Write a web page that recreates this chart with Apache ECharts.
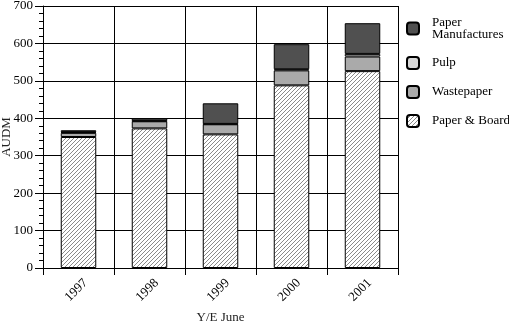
<!DOCTYPE html>
<html>
<head>
<meta charset="utf-8">
<script src="https://cdn.jsdelivr.net/npm/echarts@6/dist/echarts.min.js"></script>
<style>
  html, body { margin: 0; padding: 0; background: #fff; }
  #chart { width: 509px; height: 322px; }
</style>
</head>
<body>
<div id="chart"></div>
<script>
// Australian paper product imports by year ending June (AUD millions)
const years = ['1997', '1998', '1999', '2000', '2001'];
const paperBoard = [350, 373, 357, 488, 526];
const wastepaper = [11, 19, 27, 40, 39];
const pulp = [2, 1, 1, 3, 7];
const paperManufactures = [5, 7, 55, 67, 82];
const yTicks = [0, 100, 200, 300, 400, 500, 600, 700];

const FONT = '"Liberation Serif", "Times New Roman", serif';

// Diagonal hatch fill for Paper & Board
function makeHatch() {
  const c = document.createElement('canvas');
  c.width = 4; c.height = 4;
  const g = c.getContext('2d');
  g.fillStyle = '#ffffff';
  g.fillRect(0, 0, 4, 4);
  g.fillStyle = '#8a8a8a';
  for (let i = 0; i < 4; i++) g.fillRect(i, 3 - i, 1, 1);
  return c;
}
const hatch = { image: makeHatch(), repeat: 'repeat' };

const chart = echarts.init(document.getElementById('chart'), null, { renderer: 'canvas' });

function barSeries(name, data, color) {
  return {
    name: name,
    type: 'bar',
    stack: 'total',
    data: data,
    barWidth: '50%',
    itemStyle: { color: color, borderColor: '#000', borderWidth: 1 }
  };
}

chart.setOption({
  animation: false,
  backgroundColor: '#ffffff',
  grid: { left: 43, right: 111, top: 6, bottom: 54, containLabel: false, outerBoundsMode: 'none' },
  legend: {
    orient: 'vertical',
    left: 401,
    top: 11,
    itemWidth: 12,
    itemHeight: 12,
    itemGap: 15,
    icon: 'roundRect',
    data: ['Paper Manufactures', 'Pulp', 'Wastepaper', 'Paper & Board'],
    formatter: function (n) { return n === 'Paper Manufactures' ? 'Paper\nManufactures' : n; },
    textStyle: { fontFamily: FONT, fontSize: 13, color: '#000', lineHeight: 12, padding: [0, 0, 0, 8] }
  },
  xAxis: {
    type: 'category',
    data: years,
    name: 'Y/E June',
    nameLocation: 'middle',
    nameGap: 40,
    nameTextStyle: { fontFamily: FONT, fontSize: 13, color: '#222' },
    axisLine: { lineStyle: { color: '#000', width: 1 } },
    axisTick: { show: true, length: 7, lineStyle: { color: '#000' } },
    axisLabel: {
      rotate: 45, fontFamily: FONT, fontSize: 13, color: '#000',
      margin: 20, align: 'center', verticalAlign: 'middle', padding: [0, 6, 0, 0]
    },
    splitLine: { show: true, lineStyle: { color: '#000', width: 1 } }
  },
  yAxis: {
    type: 'value',
    min: yTicks[0],
    max: yTicks[yTicks.length - 1],
    interval: 100,
    name: 'AUDM',
    nameLocation: 'middle',
    nameGap: 30,
    nameMoveOverlap: false,
    nameTextStyle: { fontFamily: FONT, fontSize: 13, color: '#222' },
    axisLine: { show: true, lineStyle: { color: '#000', width: 1 } },
    axisTick: { show: true, length: 8, lineStyle: { color: '#000' } },
    minorTick: { show: true, splitNumber: 5, length: 4, lineStyle: { color: '#000' } },
    axisLabel: { fontFamily: FONT, fontSize: 13, color: '#000', margin: 10 },
    splitLine: { show: true, lineStyle: { color: '#000', width: 1 } }
  },
  series: [
    barSeries('Paper & Board', paperBoard, hatch),
    barSeries('Wastepaper', wastepaper, '#aaaaaa'),
    barSeries('Pulp', pulp, '#d8d8d8'),
    barSeries('Paper Manufactures', paperManufactures, '#505050')
  ]
});
</script>
</body>
</html>
